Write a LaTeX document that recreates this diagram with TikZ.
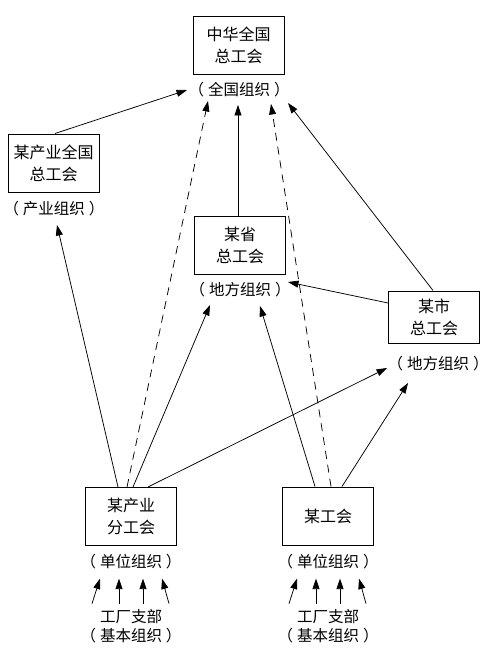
\documentclass[tikz,border=0pt]{standalone}
\usepackage{fontspec}
\setmainfont{Noto Sans CJK SC}
\usetikzlibrary{arrows.meta,calc}
\newcommand{\lp}{（\hspace{4pt}}
\newcommand{\rp}{\hspace{4pt}）}
\begin{document}
\begin{tikzpicture}[x=1pt,y=-1pt,
  box/.style={draw, line width=1pt, minimum width=91pt, minimum height=58pt, align=center, inner sep=0pt, font=\fontsize{16}{22}\selectfont},
  lab/.style={inner sep=0pt, font=\fontsize{15.5}{19}\selectfont},
  arr/.style={-{Triangle[length=10.5pt,width=7pt]}, line width=0.75pt},
  dashline/.style={arr, dash pattern=on 8pt off 6pt},
]
\useasboundingbox (0,0) rectangle (490,658);
% boxes
\node[box] (top)  at (238.5,45.5) {中华全国\\总工会};
\node[box] (ind)  at (53.5,163)   {某产业全国\\总工会};
\node[box] (prov) at (240,245)    {某省\\总工会};
\node[box, minimum height=52pt] (city) at (434,317) {某市\\总工会};
\node[box] (ib)   at (131,516.5)  {某产业\\分工会};
\node[box] (un)   at (328,516)    {某工会};
% labels
\node[lab] (toplab)  at (239,90)  {\lp 全国组织\rp};
\node[lab] (indlab)  at (54,209)  {\lp 产业组织\rp};
\node[lab] (provlab) at (240,290) {\lp 地方组织\rp};
\node[lab] (citylab) at (438,364) {\lp 地方组织\rp};
\node[lab] (iblab)   at (131,562) {\lp 单位组织\rp};
\node[lab] (unlab)   at (328,562) {\lp 单位组织\rp};
\node[lab] (ibf1) at (131,617) {工厂支部};
\node[lab] (ibf2) at (131,636) {\lp 基本组织\rp};
\node[lab] (unf1) at (328,617) {工厂支部};
\node[lab] (unf2) at (328,636) {\lp 基本组织\rp};
% arrow tips
\coordinate (t1) at (187,90);
\coordinate (t2) at (238,105);
\coordinate (t3) at (208,101);
\coordinate (t4) at (271,104);
\coordinate (t5) at (288,103);
\coordinate (t6) at (288,282);
\coordinate (t7) at (57,225);
\coordinate (t8) at (210,305);
\coordinate (t9) at (387,368);
\coordinate (t10) at (260,306);
\coordinate (t11) at (408,383);
% connectors
\draw[arr] (ind.north) ++(1.5,0) -- (t1);
\draw[arr] (prov.north) ++(-2,0) -- (t2);
\draw[dashline] (ib.north) ++(-4,0) -- (t3);
\draw[dashline] (un.north) ++(3,0) -- (t4);
\draw[arr] (city.north) ++(-1,0) -- (t5);
\draw[arr] (city.west) ++(0,-14) -- (t6);
\draw[arr] (ib.north) ++(-13,0) -- (t7);
\draw[arr] (ib.north) ++(2,0) -- (t8);
\draw[arr] (ib.north) ++(17,0) -- (t9);
\draw[arr] (un.north) ++(-13,0) -- (t10);
\draw[arr] (un.north) ++(14,0) -- (t11);
% small arrows from the base units
\foreach \n in {ib,un}{
  \draw[arr] ($(\n f1.north)+(-39,-6)$) -- ($(\n lab.south)+(-31,9)$);
  \draw[arr] ($(\n f1.north)+(-12,-6)$) -- ($(\n lab.south)+(-12,9)$);
  \draw[arr] ($(\n f1.north)+(12,-6)$)  -- ($(\n lab.south)+(12,9)$);
  \draw[arr] ($(\n f1.north)+(38,-6)$)  -- ($(\n lab.south)+(31,9)$);
}
\end{tikzpicture}
\end{document}
